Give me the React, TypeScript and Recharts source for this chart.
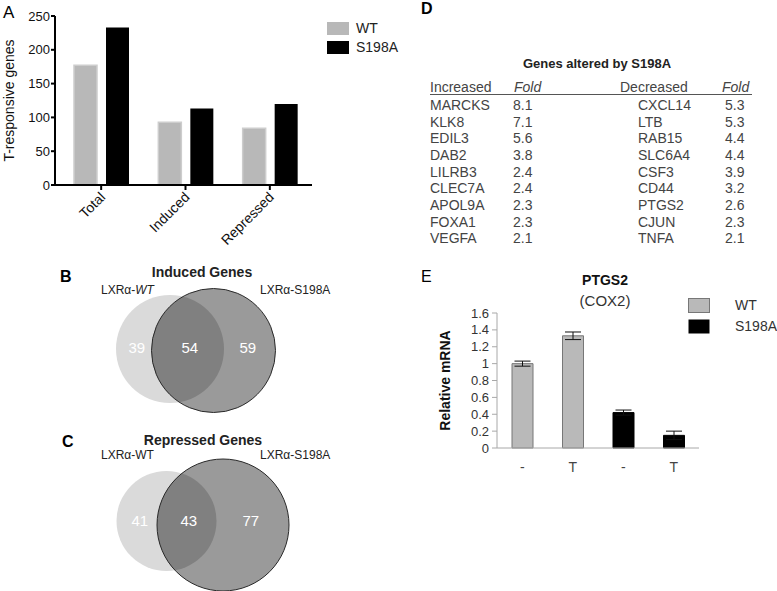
import {
  Bar,
  BarChart,
  Cell,
  ErrorBar,
  Scatter,
  ScatterChart,
  XAxis,
  YAxis,
} from "recharts";

const FONT = '"Liberation Sans", Arial, Helvetica, sans-serif';

// Panel A: T-responsive genes
const responseCategories = ["Total", "Induced", "Repressed"];
const wtCounts = [177, 93, 84];
const s198aCounts = [233, 113, 120];
const countTicks = [0, 50, 100, 150, 200, 250];

// Panels B/C: [WT only, shared, S198A only]
const inducedOverlap = [39, 54, 59];
const repressedOverlap = [41, 43, 77];

// Panel D
const increasedGenes = ["MARCKS", "KLK8", "EDIL3", "DAB2", "LILRB3", "CLEC7A", "APOL9A", "FOXA1", "VEGFA"];
const increasedFold = ["8.1", "7.1", "5.6", "3.8", "2.4", "2.4", "2.3", "2.3", "2.1"];
const decreasedGenes = ["CXCL14", "LTB", "RAB15", "SLC6A4", "CSF3", "CD44", "PTGS2", "CJUN", "TNFA"];
const decreasedFold = ["5.3", "5.3", "4.4", "4.4", "3.9", "3.2", "2.6", "2.3", "2.1"];

// Panel E: PTGS2 qPCR
const pcrLabels = ["-", "T", "-", "T"];
const pcrGroups = ["WT", "WT", "S198A", "S198A"];
const pcrMean = [1.0, 1.33, 0.42, 0.15];
const pcrErr = [0.03, 0.045, 0.03, 0.05];
const mrnaTicks = [0, 0.2, 0.4, 0.6, 0.8, 1, 1.2, 1.4, 1.6];

const responseData = responseCategories.map((category, i) => ({
  category,
  wt: wtCounts[i],
  s198a: s198aCounts[i],
}));

const pcrData = pcrLabels.map((label, i) => ({
  label,
  group: pcrGroups[i],
  value: pcrMean[i],
  err: pcrErr[i],
}));

function Txt({
  x,
  y,
  size = 14,
  weight,
  italic,
  anchor = "start",
  fill = "#222",
  children,
}: {
  x: number;
  y: number;
  size?: number;
  weight?: string;
  italic?: boolean;
  anchor?: "start" | "middle" | "end";
  fill?: string;
  children: React.ReactNode;
}) {
  return (
    <text
      x={x}
      y={y + size * 0.35}
      fontSize={size}
      fontWeight={weight}
      fontStyle={italic ? "italic" : undefined}
      textAnchor={anchor}
      fill={fill}
      fontFamily={FONT}
    >
      {children}
    </text>
  );
}

const AngledTick = ({ x, y, payload }: any) => (
  <g transform={`translate(${x + 5},${y + 6}) rotate(-45)`}>
    <text x={0} y={0} textAnchor="end" fontSize={14} fill="#111" fontFamily={FONT}>
      {payload.value}
    </text>
  </g>
);

function ResponsePanel() {
  return (
    <BarChart
      width={320}
      height={250}
      data={responseData}
      margin={{ top: 16, right: 8, left: 0, bottom: 0 }}
      barSize={23}
      barGap={9}
    >
      <XAxis
        dataKey="category"
        height={65}
        padding={{ left: 4, right: 0 }}
        stroke="#000"
        strokeWidth={2}
        tickSize={5}
        tick={<AngledTick />}
        interval={0}
      />
      <YAxis
        width={55}
        domain={[0, 250]}
        ticks={countTicks}
        interval={0}
        stroke="#000"
        strokeWidth={2}
        tickSize={4}
        tickMargin={1}
        tick={{ fontSize: 13, fill: "#111", fontFamily: FONT }}
        label={{
          content: ({ viewBox }: any) => {
            const cy = viewBox.y + viewBox.height / 2;
            return (
              <text
                x={9}
                y={cy}
                transform={`rotate(-90 9 ${cy})`}
                textAnchor="middle"
                dominantBaseline="central"
                fontSize={14}
                fill="#111"
                fontFamily={FONT}
              >
                T-responsive genes
              </text>
            );
          },
        }}
      />
      <Bar dataKey="wt" fill="#b8b8b8" stroke="#cdcdcd" strokeWidth={1.5} isAnimationActive={false} />
      <Bar dataKey="s198a" fill="#000" isAnimationActive={false} />
    </BarChart>
  );
}

type Circle = { x: number; y: number; r: number };

const renderVennCircle = (props: any) => {
  const { cx, cy, payload } = props;
  if (payload.kind === "wt") {
    return <circle cx={cx} cy={cy} r={payload.r} fill="#dadada" />;
  }
  const ax = cx + (payload.ox - payload.x);
  const ay = cy + (payload.oy - payload.y);
  return (
    <g>
      <defs>
        <clipPath id={payload.clipId}>
          <circle cx={ax} cy={ay} r={payload.or} />
        </clipPath>
      </defs>
      <circle cx={cx} cy={cy} r={payload.r} fill="#9a9a9a" />
      <circle cx={cx} cy={cy} r={payload.r} fill="#808080" clipPath={`url(#${payload.clipId})`} />
      <circle cx={cx} cy={cy} r={payload.r} fill="none" stroke="#2a2a2a" strokeWidth={1} />
    </g>
  );
};

const renderVennCount = (props: any) => (
  <text
    x={props.cx}
    y={props.cy}
    dy="0.35em"
    textAnchor="middle"
    fontSize={15}
    fill="#fff"
    fontFamily={FONT}
  >
    {props.payload.n}
  </text>
);

function Venn({
  id,
  height,
  a,
  b,
  counts,
}: {
  id: string;
  height: number;
  a: Circle;
  b: Circle;
  counts: number[];
}) {
  const circles = [
    { ...a, kind: "wt" },
    { ...b, kind: "mut", ox: a.x, oy: a.y, or: a.r, clipId: `clip-${id}` },
  ];
  const ly = (a.y + b.y) / 2 - 2;
  const labels = [
    { x: (a.x - a.r + b.x - b.r) / 2 + 3, y: ly, n: counts[0] },
    { x: (b.x - b.r + a.x + a.r) / 2 + 2, y: ly, n: counts[1] },
    { x: (a.x + a.r + b.x + b.r) / 2 - 2, y: ly, n: counts[2] },
  ];
  return (
    <ScatterChart width={340} height={height} margin={{ top: 0, right: 0, bottom: 0, left: 0 }}>
      <XAxis type="number" dataKey="x" domain={[0, 340]} hide />
      <YAxis type="number" dataKey="y" domain={[0, height]} reversed hide />
      <Scatter data={circles} shape={renderVennCircle} isAnimationActive={false} />
      <Scatter data={labels} shape={renderVennCount} isAnimationActive={false} />
    </ScatterChart>
  );
}

function PcrPanel() {
  return (
    <BarChart
      width={377}
      height={228}
      data={pcrData}
      margin={{ top: 63, right: 78, left: 0, bottom: 0 }}
      barSize={21}
    >
      <XAxis
        dataKey="label"
        height={30}
        stroke="#a8a8a8"
        tickLine={false}
        tickMargin={8}
        tick={{ fontSize: 14, fill: "#444", fontFamily: FONT }}
        interval={0}
      />
      <YAxis
        width={97}
        domain={[0, 1.6]}
        ticks={mrnaTicks}
        interval={0}
        stroke="#a8a8a8"
        tickSize={5}
        tickMargin={3}
        tick={{ fontSize: 13, fill: "#333", fontFamily: FONT }}
        label={{
          content: ({ viewBox }: any) => {
            const cy = viewBox.y + viewBox.height / 2;
            return (
              <text
                x={45}
                y={cy}
                transform={`rotate(-90 45 ${cy})`}
                textAnchor="middle"
                dominantBaseline="central"
                fontSize={14}
                fontWeight="bold"
                fill="#111"
                fontFamily={FONT}
              >
                Relative mRNA
              </text>
            );
          },
        }}
      />
      <Bar dataKey="value" isAnimationActive={false}>
        {pcrData.map((d, i) => (
          <Cell
            key={i}
            fill={d.group === "WT" ? "#b9b9b9" : "#000"}
            stroke={d.group === "WT" ? "#777" : "#000"}
          />
        ))}
        <ErrorBar dataKey="err" width={8} stroke="#111" strokeWidth={1} />
      </Bar>
    </BarChart>
  );
}

function Annotations() {
  const rowY = (i: number) => 105 + i * 16.67;
  return (
    <svg
      width={777}
      height={591}
      style={{ position: "absolute", left: 0, top: 0, pointerEvents: "none" }}
    >
      {/* panel letters */}
      <Txt x={3} y={12} size={17} fill="#000">A</Txt>
      <Txt x={60} y={276} size={16} weight="bold" fill="#000">B</Txt>
      <Txt x={62} y={441} size={16} weight="bold" fill="#000">C</Txt>
      <Txt x={421} y={8} size={16} weight="bold" fill="#000">D</Txt>
      <Txt x={421} y={276} size={16} fill="#000">E</Txt>

      {/* A legend */}
      <rect x={327} y={22} width={22} height={13} fill="#b8b8b8" />
      <rect x={327} y={41} width={22} height={13} fill="#000" />
      <Txt x={356} y={28.5}>WT</Txt>
      <Txt x={356} y={47.5}>S198A</Txt>

      {/* B / C headings */}
      <Txt x={202} y={272} weight="bold" anchor="middle">Induced Genes</Txt>
      <text x={101} y={294} fontSize={12} fill="#222" fontFamily={FONT}>
        LXRα-<tspan fontStyle="italic">WT</tspan>
      </text>
      <Txt x={260} y={290} size={12}>LXRα-S198A</Txt>
      <Txt x={203} y={440} weight="bold" anchor="middle">Repressed Genes</Txt>
      <Txt x={101} y={455} size={12}>LXRα-WT</Txt>
      <Txt x={260} y={455} size={12}>LXRα-S198A</Txt>

      {/* D table */}
      <Txt x={597} y={63} size={13} weight="bold" anchor="middle">Genes altered by S198A</Txt>
      <Txt x={430} y={87.5} fill="#444">Increased</Txt>
      <Txt x={514} y={87.5} italic fill="#444">Fold</Txt>
      <Txt x={620} y={87.5} fill="#444">Decreased</Txt>
      <Txt x={722} y={87.5} italic fill="#444">Fold</Txt>
      <line x1={430} x2={752} y1={94.5} y2={94.5} stroke="#555" strokeWidth={1} />
      {increasedGenes.map((g, i) => (
        <g key={g}>
          <Txt x={430} y={rowY(i)} fill="#444">{g}</Txt>
          <Txt x={513} y={rowY(i)} fill="#444">{increasedFold[i]}</Txt>
          <Txt x={638} y={rowY(i)} fill="#444">{decreasedGenes[i]}</Txt>
          <Txt x={725} y={rowY(i)} fill="#444">{decreasedFold[i]}</Txt>
        </g>
      ))}

      {/* E title and legend */}
      <Txt x={605} y={280} weight="bold" anchor="middle" fill="#111">PTGS2</Txt>
      <Txt x={605} y={301} size={15} anchor="middle" fill="#333">(COX2)</Txt>
      <rect x={688.5} y={298.5} width={21} height={14} fill="#b9b9b9" stroke="#777" />
      <rect x={688.5} y={319.5} width={21} height={14} fill="#000" />
      <Txt x={735} y={305.5} fill="#333">WT</Txt>
      <Txt x={735} y={326.5} fill="#333">S198A</Txt>
    </svg>
  );
}

export default function App() {
  return (
    <div
      style={{
        position: "absolute",
        left: 0,
        top: 0,
        width: 777,
        height: 591,
        background: "#fff",
        fontFamily: FONT,
        overflow: "hidden",
      }}
    >
      <div style={{ position: "absolute", left: 0, top: 0 }}>
        <ResponsePanel />
      </div>
      <div style={{ position: "absolute", left: 0, top: 250 }}>
        <Venn id="induced" height={170} a={{ x: 170, y: 99, r: 54 }} b={{ x: 213.5, y: 100.5, r: 62 }} counts={inducedOverlap} />
      </div>
      <div style={{ position: "absolute", left: 0, top: 421 }}>
        <Venn id="repressed" height={170} a={{ x: 166.5, y: 100, r: 50 }} b={{ x: 223, y: 104, r: 66 }} counts={repressedOverlap} />
      </div>
      <div style={{ position: "absolute", left: 400, top: 250 }}>
        <PcrPanel />
      </div>
      <Annotations />
    </div>
  );
}
